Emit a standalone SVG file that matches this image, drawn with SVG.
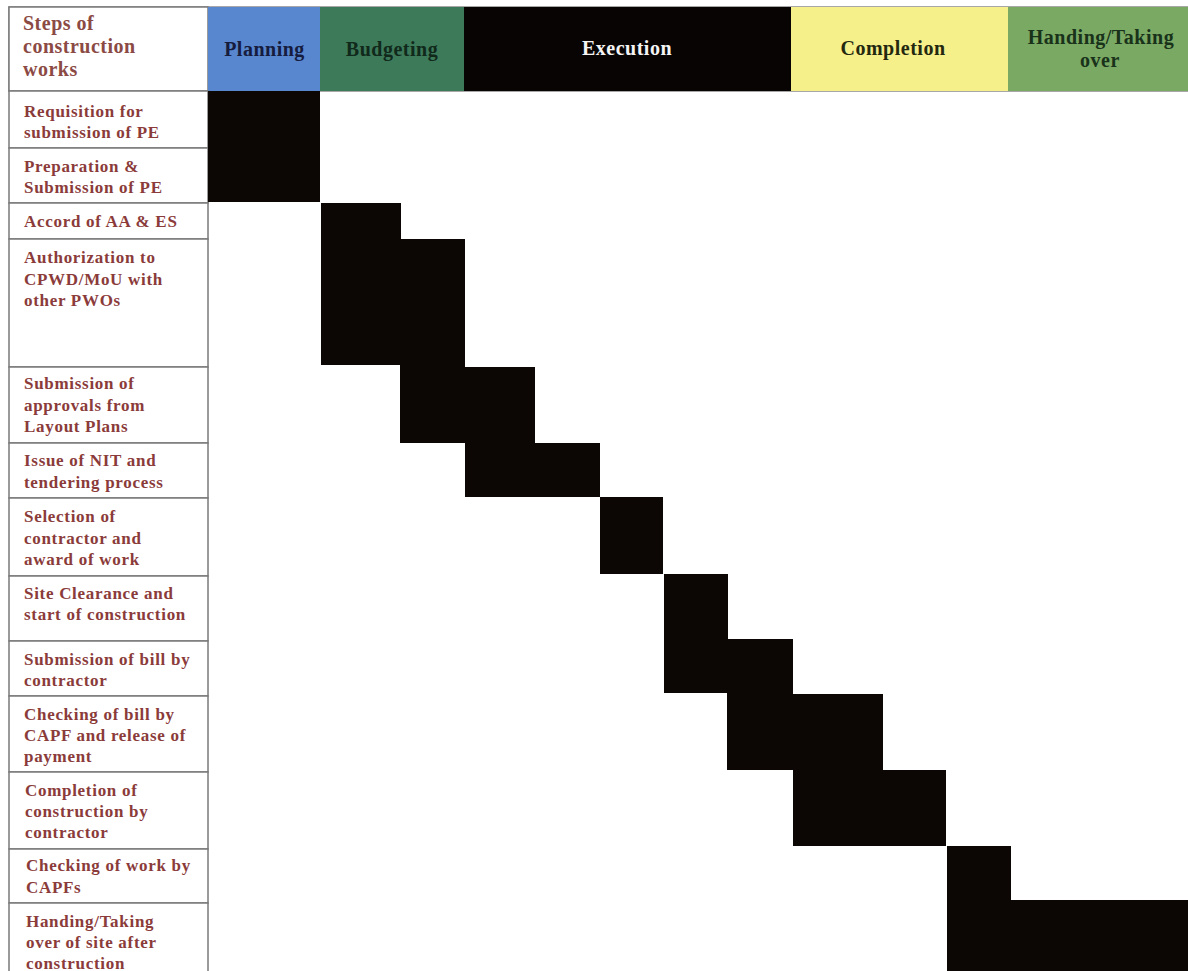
<svg xmlns="http://www.w3.org/2000/svg" width="1188" height="971" viewBox="0 0 1188 971">
<style>
.lbl{font-family:"Liberation Serif","Times New Roman",serif;font-weight:bold;font-size:17px;letter-spacing:0.7px;fill:#8a3b3a}
.hdr{font-family:"Liberation Serif","Times New Roman",serif;font-weight:bold;font-size:20px;letter-spacing:0.5px}
.cell{fill:#ffffff;stroke:#7a7a7a;stroke-width:1.5}
.blk{fill:#0c0605}
</style>
<rect x="0" y="0" width="1188" height="971" fill="#ffffff"/>
<g id="header">
  <rect x="9" y="7" width="1179" height="84" fill="#ffffff" stroke="#8a8a8a" stroke-width="1.5"/>
  <g id="hdr-steps">
    <rect class="cell" x="9" y="7" width="199" height="84"/>
    <text class="hdr" x="23" y="30" fill="#8b4a44">Steps of</text>
    <text class="hdr" x="23" y="53" fill="#8b4a44">construction</text>
    <text class="hdr" x="23" y="76" fill="#8b4a44">works</text>
  </g>
  <g id="hdr-planning">
    <rect x="208" y="7" width="112" height="84" fill="#5886cf"/>
    <text class="hdr" x="264.5" y="56" text-anchor="middle" fill="#151c3e">Planning</text>
  </g>
  <g id="hdr-budgeting">
    <rect x="320" y="7" width="144" height="84" fill="#3d7a5a"/>
    <text class="hdr" x="392" y="56" text-anchor="middle" fill="#10291a">Budgeting</text>
  </g>
  <g id="hdr-execution">
    <rect x="464" y="7" width="327" height="84" fill="#080404"/>
    <text class="hdr" x="627" y="55" text-anchor="middle" fill="#f4f4f4">Execution</text>
  </g>
  <g id="hdr-completion">
    <rect x="791" y="7" width="217" height="84" fill="#f6f08b"/>
    <text class="hdr" x="893" y="55" text-anchor="middle" fill="#23280f" letter-spacing="1.5">Completion</text>
  </g>
  <g id="hdr-handing">
    <rect x="1008" y="7" width="180" height="84" fill="#7aa964"/>
    <text class="hdr" x="1101" y="44" text-anchor="middle" fill="#19321a">Handing/Taking</text>
    <text class="hdr" x="1100" y="67" text-anchor="middle" fill="#19321a">over</text>
  </g>
</g>
<g id="rows">
  <g id="row1"><rect class="cell" x="9" y="91" width="199" height="57"/>
    <text class="lbl" x="24" y="117">Requisition for</text><text class="lbl" x="24" y="138">submission of PE</text></g>
  <g id="row2"><rect class="cell" x="9" y="148" width="199" height="55"/>
    <text class="lbl" x="24" y="172">Preparation &amp;</text><text class="lbl" x="24" y="193">Submission of PE</text></g>
  <g id="row3"><rect class="cell" x="9" y="203" width="199" height="36"/>
    <text class="lbl" x="24" y="227">Accord of AA &amp; ES</text></g>
  <g id="row4"><rect class="cell" x="9" y="239" width="199" height="128"/>
    <text class="lbl" x="24" y="263">Authorization to</text><text class="lbl" x="24" y="285">CPWD/MoU with</text><text class="lbl" x="24" y="306">other PWOs</text></g>
  <g id="row5"><rect class="cell" x="9" y="367" width="199" height="76"/>
    <text class="lbl" x="24" y="389">Submission of</text><text class="lbl" x="24" y="411">approvals from</text><text class="lbl" x="24" y="432">Layout Plans</text></g>
  <g id="row6"><rect class="cell" x="9" y="443" width="199" height="55"/>
    <text class="lbl" x="24" y="466">Issue of NIT and</text><text class="lbl" x="24" y="488">tendering process</text></g>
  <g id="row7"><rect class="cell" x="9" y="498" width="199" height="78"/>
    <text class="lbl" x="24" y="522">Selection of</text><text class="lbl" x="24" y="544">contractor and</text><text class="lbl" x="24" y="565">award of work</text></g>
  <g id="row8"><rect class="cell" x="9" y="576" width="199" height="65"/>
    <text class="lbl" x="24" y="599">Site Clearance and</text><text class="lbl" x="24" y="620">start of construction</text></g>
  <g id="row9"><rect class="cell" x="9" y="641" width="199" height="55"/>
    <text class="lbl" x="24" y="665">Submission of bill by</text><text class="lbl" x="24" y="686">contractor</text></g>
  <g id="row10"><rect class="cell" x="9" y="696" width="199" height="76"/>
    <text class="lbl" x="24" y="720">Checking of bill by</text><text class="lbl" x="24" y="741">CAPF and release of</text><text class="lbl" x="24" y="762">payment</text></g>
  <g id="row11"><rect class="cell" x="9" y="772" width="199" height="77"/>
    <text class="lbl" x="25" y="796">Completion of</text><text class="lbl" x="25" y="817">construction by</text><text class="lbl" x="25" y="838">contractor</text></g>
  <g id="row12"><rect class="cell" x="9" y="849" width="199" height="54"/>
    <text class="lbl" x="26" y="871">Checking of work by</text><text class="lbl" x="26" y="893">CAPFs</text></g>
  <g id="row13"><rect class="cell" x="9" y="903" width="199" height="80"/>
    <text class="lbl" x="26" y="927">Handing/Taking</text><text class="lbl" x="26" y="948">over of site after</text><text class="lbl" x="26" y="969">construction</text></g>
</g>
<g id="bars">
  <rect class="blk" x="208" y="91" width="112" height="111"/>
  <rect class="blk" x="321" y="203" width="80" height="162"/>
  <rect class="blk" x="400" y="239" width="65" height="204"/>
  <rect class="blk" x="465" y="367" width="70" height="130"/>
  <rect class="blk" x="534" y="443" width="66" height="54"/>
  <rect class="blk" x="600" y="497" width="63" height="77"/>
  <rect class="blk" x="664" y="574" width="64" height="119"/>
  <rect class="blk" x="727" y="639" width="66" height="131"/>
  <rect class="blk" x="793" y="694" width="90" height="152"/>
  <rect class="blk" x="882" y="770" width="64" height="76"/>
  <rect class="blk" x="947" y="846" width="64" height="125"/>
  <rect class="blk" x="1010" y="900" width="178" height="71"/>
</g>
</svg>
